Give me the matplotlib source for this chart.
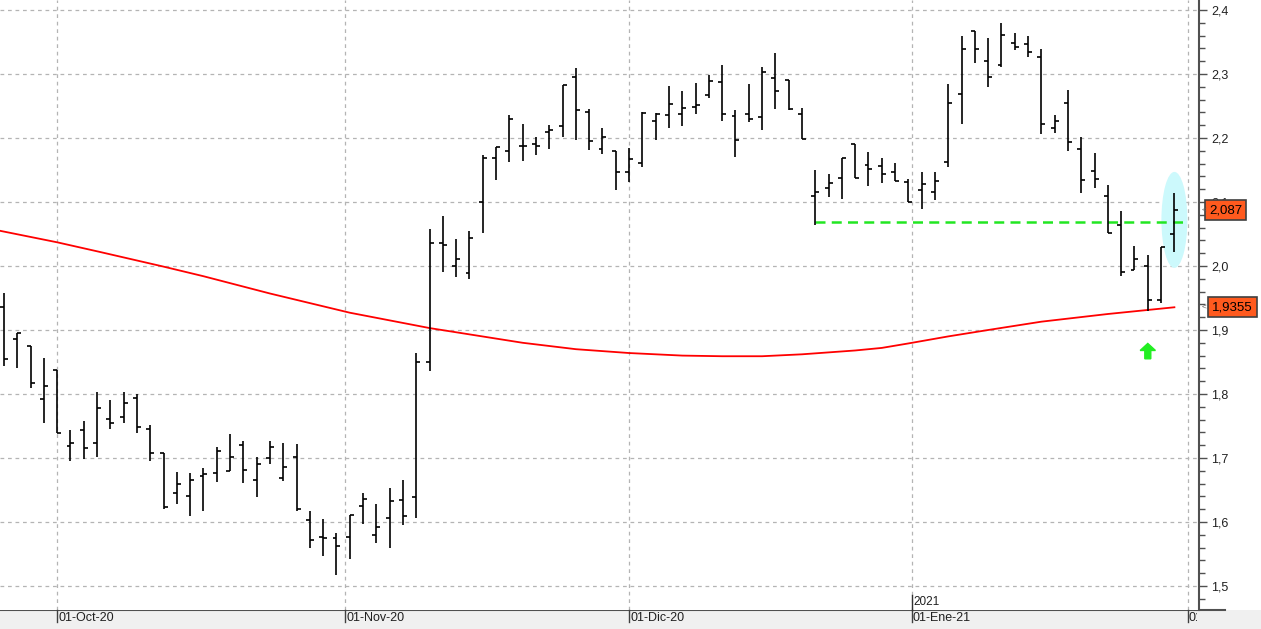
import numpy as np
import pandas as pd
import matplotlib
matplotlib.use("Agg")
import matplotlib.pyplot as plt
from matplotlib.patches import Ellipse, Rectangle
from matplotlib.lines import Line2D
from matplotlib.ticker import MultipleLocator, FuncFormatter
import matplotlib.transforms as mtransforms

plt.rcParams['font.family'] = ['Liberation Sans', 'DejaVu Sans']

# trading days, 25-Sep-2020 .. 29-Jan-2021 (25-Dec and 01-Jan closed)
dates = pd.bdate_range("2020-09-25", "2021-01-29")
dates = dates[~dates.isin(pd.to_datetime(["2020-12-25", "2021-01-01"]))]

opens = [1.936, 1.886, 1.875, 1.792, 1.837, 1.719, 1.744, 1.723, 1.761, 1.764,
         1.794, 1.745, 1.708, 1.645, 1.640, 1.672, 1.677, 1.680, 1.720, 1.666,
         1.700, 1.669, 1.702, 1.603, 1.577, 1.575, 1.577, 1.625, 1.580, 1.606,
         1.634, 1.639, 1.850, 2.036, 2.000, 1.989, 2.100, 2.169, 2.180, 2.188,
         2.191, 2.209, 2.219, 2.295, 2.241, 2.183, 2.180, 2.147, 2.161, 2.227,
         2.236, 2.237, 2.248, 2.267, 2.288, 2.234, 2.237, 2.233, 2.294, 2.291,
         2.237, 2.109, 2.122, 2.137, 2.191, 2.158, 2.156, 2.147, 2.131, 2.119,
         2.116, 2.162, 2.269, 2.367, 2.320, 2.314, 2.348, 2.347, 2.327, 2.216,
         2.255, 2.183, 2.148, 2.109, 2.064, 1.994, 2.000, 1.947, 2.050]
highs = [1.958, 1.895, 1.875, 1.856, 1.837, 1.744, 1.758, 1.803, 1.791, 1.803,
         1.800, 1.752, 1.708, 1.678, 1.677, 1.684, 1.717, 1.737, 1.727, 1.702,
         1.727, 1.723, 1.722, 1.617, 1.605, 1.583, 1.611, 1.645, 1.628, 1.653,
         1.666, 1.864, 2.058, 2.078, 2.042, 2.055, 2.173, 2.186, 2.236, 2.222,
         2.202, 2.220, 2.283, 2.309, 2.245, 2.216, 2.180, 2.184, 2.241, 2.239,
         2.281, 2.273, 2.286, 2.298, 2.314, 2.244, 2.284, 2.311, 2.333, 2.291,
         2.247, 2.150, 2.144, 2.169, 2.191, 2.178, 2.169, 2.161, 2.136, 2.147,
         2.147, 2.284, 2.359, 2.367, 2.356, 2.380, 2.364, 2.359, 2.339, 2.236,
         2.275, 2.202, 2.177, 2.127, 2.086, 2.031, 2.017, 2.030, 2.114]
lows = [1.844, 1.841, 1.809, 1.755, 1.739, 1.695, 1.698, 1.702, 1.745, 1.755,
        1.739, 1.695, 1.620, 1.628, 1.609, 1.617, 1.662, 1.680, 1.661, 1.639,
        1.691, 1.664, 1.617, 1.559, 1.547, 1.517, 1.542, 1.597, 1.567, 1.559,
        1.595, 1.606, 1.836, 1.991, 1.983, 1.980, 2.052, 2.134, 2.163, 2.164,
        2.174, 2.183, 2.202, 2.197, 2.181, 2.175, 2.119, 2.131, 2.155, 2.197,
        2.216, 2.219, 2.237, 2.262, 2.227, 2.170, 2.225, 2.212, 2.245, 2.244,
        2.198, 2.064, 2.108, 2.105, 2.137, 2.125, 2.130, 2.133, 2.100, 2.089,
        2.103, 2.155, 2.222, 2.317, 2.280, 2.311, 2.338, 2.327, 2.206, 2.208,
        2.180, 2.114, 2.122, 2.052, 1.984, 1.994, 1.930, 1.942, 2.022]
closes = [1.855, 1.895, 1.817, 1.812, 1.739, 1.723, 1.716, 1.778, 1.755, 1.786,
          1.748, 1.708, 1.623, 1.659, 1.666, 1.675, 1.711, 1.702, 1.681, 1.691,
          1.717, 1.686, 1.620, 1.572, 1.575, 1.563, 1.611, 1.636, 1.592, 1.633,
          1.609, 1.850, 2.036, 2.033, 2.011, 2.044, 2.169, 2.186, 2.230, 2.188,
          2.188, 2.212, 2.283, 2.244, 2.195, 2.202, 2.147, 2.167, 2.239, 2.237,
          2.253, 2.247, 2.252, 2.289, 2.237, 2.197, 2.230, 2.303, 2.273, 2.245,
          2.198, 2.116, 2.130, 2.169, 2.137, 2.152, 2.144, 2.133, 2.100, 2.128,
          2.133, 2.255, 2.339, 2.339, 2.295, 2.361, 2.342, 2.334, 2.222, 2.227,
          2.194, 2.134, 2.136, 2.052, 1.991, 2.011, 1.947, 2.030, 2.087]

# moving average, read at some bars
ma_idx = [-0.3, 4, 7.2, 12, 15, 20, 26, 32, 39, 43, 47, 51, 54, 57, 60, 64,
          66, 68, 71, 74, 78, 83, 88]
ma_val = [2.055, 2.037, 2.022, 1.999, 1.984, 1.957, 1.927, 1.903, 1.880, 1.870,
          1.864, 1.860, 1.859, 1.859, 1.862, 1.868, 1.872, 1.879, 1.890, 1.900,
          1.913, 1.925, 1.9355]

support_level = 2.068
support_start = 61
month_labels = ["01-Oct-20", "01-Nov-20", "01-Dic-20", "01-Ene-21", "01-Feb-21"]

x = np.arange(len(closes))

fig = plt.figure(figsize=(12.61, 6.29), dpi=100)
band_h = 19 / 629
ax = fig.add_axes([0, band_h, 1199 / 1261, 1 - band_h])

# gray strip at the bottom (behind the axes)
fig.patches.append(Rectangle((0, 0), 1, band_h, transform=fig.transFigure,
                             facecolor="#f0f0f0", edgecolor="none", zorder=-1))
fig.lines.append(Line2D([0, 1225 / 1261], [band_h, band_h], transform=fig.transFigure,
                        color="#505050", lw=1.5, zorder=-0.5))

ax.set_xlim(-0.3, 89.85)
ax.set_ylim(1.4625, 2.4156)

# month gridlines: calendar position between trading days
ords = np.array([d.toordinal() for d in dates] + [dates[-1].toordinal() + 3])
month_starts = pd.to_datetime(["2020-10-01", "2020-11-01", "2020-12-01", "2021-01-01", "2021-02-01"])
month_pos = np.interp([d.toordinal() for d in month_starts], ords, np.arange(len(ords)))

ax.set_xticks(month_pos)
ax.tick_params(axis="x", length=0, labelbottom=False)
ax.set_yticks(np.arange(1.5, 2.41, 0.1))
ax.yaxis.set_minor_locator(MultipleLocator(0.02))
ax.yaxis.set_major_formatter(FuncFormatter(lambda v, p: f"{v:.1f}".replace(".", ",")))
ax.yaxis.tick_right()
ax.tick_params(axis="y", which="major", length=6, width=1, color="#505050",
               labelsize=9, labelcolor="#202020", pad=3)
ax.tick_params(axis="y", which="minor", length=4, width=1, color="#505050")

for s in ["top", "left", "bottom"]:
    ax.spines[s].set_visible(False)
ax.spines["right"].set_color("#505050")
ax.spines["right"].set_linewidth(1.5)

ax.grid(True, which="major", color="#b4b4b4", linestyle=(0, (3, 3)), linewidth=0.9)
ax.set_axisbelow(True)

# month labels in the bottom strip
btrans = mtransforms.blended_transform_factory(ax.transData, ax.transAxes)
tick_h = 12 / 610
clip_rect = Rectangle((0, 0), 1197 / 1261, 1, transform=fig.transFigure)
for pos, lab in zip(month_pos, month_labels):
    ax.plot([pos, pos], [0, -tick_h], color="#404040", lw=1, transform=btrans,
            clip_on=False)
    t = ax.text(pos + 0.08, -0.004, lab, transform=btrans, fontsize=9,
                ha="left", va="top", color="#202020")
    t.set_clip_path(clip_rect)
    t.set_clip_on(True)

# highlight of the last bar
ax.add_patch(Ellipse((x[-1], 2.072), width=1.95, height=0.15,
                     facecolor="#ccf9fc", edgecolor="none", zorder=1))

ax.plot(ma_idx, ma_val, color="#ff0000", lw=1.3, zorder=2)
ax.hlines(support_level, x[support_start], month_pos[-1], colors="#22e622",
          linestyles=(0, (4, 2.5)), lw=1.8, zorder=2)

w = 0.3
ax.vlines(x, lows, highs, colors="black", lw=1.2, zorder=3)
ax.hlines(opens, x - w, x, colors="black", lw=1.2, zorder=3)
ax.hlines(closes, x, x + w, colors="black", lw=1.2, zorder=3)

# green arrow
ax.arrow(x[86], 1.855, 0, 0.024, width=0.45, head_width=1.15, head_length=0.011,
         length_includes_head=True, color="#22ee22", zorder=3)

# year marker
ax.plot([month_pos[3], month_pos[3]], [0, 0.025], color="#303030", lw=1,
        transform=btrans, clip_on=False)
ax.text(month_pos[3] + 0.15, 0.004, "2021", transform=btrans, fontsize=8.5,
        ha="left", va="bottom", color="#202020")

# last value labels
rtrans = mtransforms.blended_transform_factory(ax.transAxes, ax.transData)
for val, txt, xoff in [(closes[-1], f"{closes[-1]:.3f}".replace(".", ","), 1.0085),
                       (ma_val[-1], f"{ma_val[-1]:.4f}".replace(".", ","), 1.011)]:
    ax.text(xoff, val, txt, transform=rtrans, fontsize=9.5, ha="left", va="center",
            color="black", clip_on=False, zorder=5,
            bbox=dict(boxstyle="square,pad=0.3", facecolor="#ff5a1e",
                      edgecolor="#404040", linewidth=1.2))
    ax.text(1.002, val, "<", transform=rtrans, fontsize=6, ha="left", va="center",
            color="#606060", clip_on=False, zorder=5)

fig.savefig("out.png", dpi=100)
